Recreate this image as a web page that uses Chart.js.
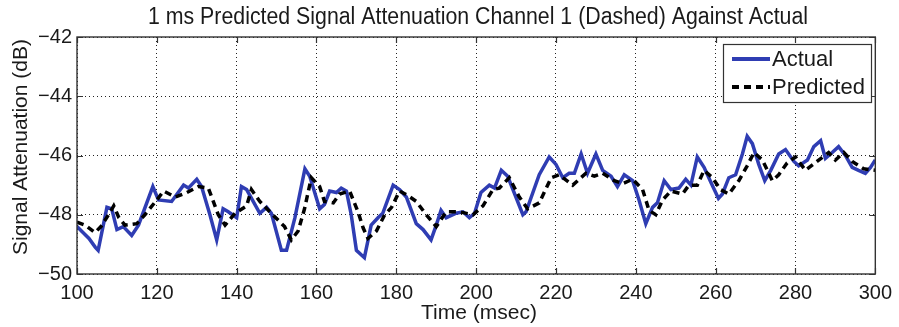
<!DOCTYPE html>
<html>
<head>
<meta charset="utf-8">
<script src="https://cdn.jsdelivr.net/npm/chart.js@4/dist/chart.umd.min.js"></script>
<style>
  html, body { margin: 0; padding: 0; background: #fff; }
  #wrap { width: 899px; height: 327px; }
</style>
</head>
<body>
<div id="wrap"><canvas id="c" width="899" height="327"></canvas></div>
<script>
// Measured attenuation (ms, dB)
const actualTime = [100, 101.5, 103, 104.6, 105.3, 107.5, 108.7, 110, 111.6, 113.7, 115.4, 119, 120.4, 123.7, 126.7, 127.9, 130, 131.2, 133.3, 135, 136.6, 137.9, 140, 141.2, 142.5, 145.8, 147.5, 148.7, 151.2, 152.5, 154.6, 157.1, 158.3, 160.8, 162, 163.3, 165, 166.2, 167.5, 168.7, 170, 172, 173.7, 175.4, 176.6, 179.2, 180.8, 182.5, 185, 186.7, 188.7, 190, 191.2, 192.5, 195, 196.7, 198.3, 199.6, 201.2, 203.3, 204.6, 206.3, 207.9, 211.7, 212.5, 215.8, 218.3, 220, 221.7, 223.3, 224.6, 226.3, 227.9, 230, 231.7, 233.8, 235.4, 237.1, 239.2, 240.8, 242.5, 244.2, 245.4, 247.1, 248.8, 250.8, 252.5, 253.8, 255.4, 257.1, 258.8, 260.7, 261.7, 263.3, 265, 266.7, 267.9, 269.2, 270.8, 272.3, 273.8, 275.8, 277.5, 279.6, 280.8, 283, 284.6, 286.3, 287.5, 289.2, 290.8, 292.5, 294.2, 295.8, 297.5, 298.8, 300];
const actualDb = [-48.4, -48.6, -48.8, -49.1, -49.2, -47.75, -47.8, -48.5, -48.4, -48.7, -48.35, -47.05, -47.5, -47.55, -47.0, -47.1, -46.8, -47.05, -48.0, -48.85, -47.8, -47.9, -48.1, -47.05, -47.15, -47.95, -47.75, -47.95, -49.2, -49.2, -48.1, -46.45, -46.7, -47.8, -47.65, -47.2, -47.25, -47.1, -47.2, -48.0, -49.2, -49.45, -48.35, -48.1, -47.95, -47.0, -47.15, -47.4, -48.3, -48.5, -48.85, -48.35, -47.85, -48.1, -47.95, -47.9, -48.1, -47.95, -47.25, -47.0, -47.1, -46.5, -46.7, -48.0, -47.9, -46.65, -46.05, -46.3, -46.75, -46.6, -46.6, -45.95, -46.6, -45.95, -46.5, -46.7, -47.05, -46.65, -46.85, -47.5, -48.3, -47.75, -47.6, -46.85, -47.15, -47.1, -46.8, -47.0, -46.05, -46.4, -46.9, -47.45, -47.3, -46.75, -46.65, -45.95, -45.35, -45.6, -46.3, -46.85, -46.5, -45.95, -45.8, -46.2, -46.35, -46.15, -45.7, -45.5, -46.1, -45.9, -45.7, -46.0, -46.4, -46.5, -46.6, -46.4, -46.15];

// 1 ms ahead prediction (ms, dB)
const predictedTime = [100, 102, 104.5, 106, 107.9, 109.2, 110.5, 112, 115, 117, 120, 121.7, 124.6, 127.5, 130.4, 132.9, 135.4, 137.1, 139.6, 142.5, 143.7, 145.8, 148.3, 152, 153.7, 155.4, 157, 158.7, 160.8, 162, 164.2, 165.8, 168.3, 170.4, 171.7, 172.9, 175, 177.1, 178.8, 180.8, 182.9, 185, 187.5, 190, 192.5, 195.8, 199.2, 201.7, 204.2, 205.8, 208.3, 210.8, 212.9, 215.8, 218.8, 220.8, 224.2, 227.5, 229.6, 231.7, 234.6, 236.7, 239.2, 241.7, 243.3, 245, 246.7, 248.8, 251.7, 253.3, 255.4, 257.1, 259.2, 261.2, 263.3, 265.8, 267.9, 269.6, 271.7, 274.2, 275.8, 277.9, 280, 282.5, 285.4, 288.3, 290, 292.1, 294.2, 297.1, 300];
const predictedDb = [-48.25, -48.35, -48.6, -48.4, -48.0, -47.7, -48.1, -48.35, -48.3, -48.0, -47.5, -47.2, -47.4, -47.25, -47.05, -47.1, -48.0, -48.35, -47.95, -47.7, -47.15, -47.55, -47.9, -48.4, -48.85, -48.55, -47.8, -46.75, -47.05, -47.55, -47.6, -47.3, -47.2, -47.9, -48.45, -48.8, -48.55, -48.0, -47.75, -47.2, -47.35, -47.55, -48.0, -48.4, -47.9, -47.9, -48.0, -47.7, -47.15, -47.1, -46.75, -47.4, -47.8, -47.6, -46.75, -46.65, -47.0, -46.6, -46.7, -46.6, -46.85, -46.95, -46.8, -47.15, -47.85, -48.0, -47.5, -47.2, -47.3, -47.0, -47.0, -46.5, -46.75, -47.15, -47.3, -46.85, -46.35, -45.9, -46.15, -46.85, -46.65, -46.25, -46.05, -46.5, -46.2, -45.9, -46.15, -45.9, -46.2, -46.45, -46.5];

// Axis ticks
const xTicks = [100, 120, 140, 160, 180, 200, 220, 240, 260, 280, 300];
const yTicks = [-50, -48, -46, -44, -42];

const seriesNames = ['Actual', 'Predicted'];
const titleText = '1 ms Predicted Signal Attenuation Channel 1 (Dashed) Against Actual';
const xTitle = 'Time (msec)';
const yTitle = 'Signal Attenuation (dB)';

const FONT = '"Liberation Sans", Arial, Helvetica, sans-serif';
const BLUE = '#2f3db3';
const INK = '#1a1a1a';

const toPoints = (xs, ys) => xs.map((x, i) => ({ x, y: ys[i] }));
const fmtMinus = v => (v < 0 ? '\u2212' + Math.abs(v) : String(v));

// Frame, inward tick marks, titles and the inset legend
const decorations = {
  id: 'decorations',
  afterDatasetsDraw(chart) {
    const { ctx, chartArea: a, scales } = chart;
    ctx.save();
    // inward tick marks
    ctx.strokeStyle = '#333';
    ctx.lineWidth = 1.2;
    ctx.setLineDash([]);
    const tl = 6;
    xTicks.forEach(v => {
      const px = Math.round(scales.x.getPixelForValue(v)) + 0.5;
      ctx.beginPath();
      ctx.moveTo(px, a.bottom); ctx.lineTo(px, a.bottom - tl);
      ctx.moveTo(px, a.top); ctx.lineTo(px, a.top + tl);
      ctx.stroke();
    });
    yTicks.forEach(v => {
      const py = Math.round(scales.y.getPixelForValue(v)) + 0.5;
      ctx.beginPath();
      ctx.moveTo(a.left, py); ctx.lineTo(a.left + tl, py);
      ctx.moveTo(a.right, py); ctx.lineTo(a.right - tl, py);
      ctx.stroke();
    });
    // frame
    ctx.lineWidth = 1.4;
    ctx.strokeRect(a.left, a.top, a.right - a.left, a.bottom - a.top);

    // legend
    const lx = 723, ly = 44, lw = 148, lh = 58;
    ctx.fillStyle = '#fff';
    ctx.fillRect(lx, ly, lw, lh);
    ctx.lineWidth = 1.2;
    ctx.strokeStyle = '#333';
    ctx.strokeRect(lx + 0.5, ly + 0.5, lw, lh);
    const ds = chart.data.datasets;
    const rows = [59, 87];
    ds.forEach((d, i) => {
      ctx.beginPath();
      ctx.strokeStyle = d.borderColor;
      ctx.lineWidth = 4;
      ctx.setLineDash(d.borderDash || []);
      ctx.moveTo(732, rows[i]); ctx.lineTo(770, rows[i]);
      ctx.stroke();
      ctx.setLineDash([]);
      ctx.fillStyle = INK;
      ctx.font = '22px ' + FONT;
      ctx.textAlign = 'left';
      ctx.textBaseline = 'middle';
      ctx.fillText(d.label, 772, rows[i] + 1);
    });

    // chart title: tall, slightly condensed lettering spanning the plot
    ctx.fillStyle = INK;
    ctx.textAlign = 'center';
    ctx.textBaseline = 'alphabetic';
    ctx.font = '23px ' + FONT;
    const tw = ctx.measureText(titleText).width;
    const sx = Math.min(1, 660 / tw);
    ctx.save();
    ctx.translate(478, 24);
    ctx.scale(sx, 1);
    ctx.fillText(titleText, 0, 0);
    ctx.restore();

    // axis titles
    ctx.textBaseline = 'middle';
    ctx.font = '21px ' + FONT;
    ctx.fillText(xTitle, 479, 313);
    ctx.translate(21, 147);
    ctx.rotate(-Math.PI / 2);
    ctx.fillText(yTitle, 0, 0);
    ctx.restore();
  }
};

new Chart(document.getElementById('c'), {
  type: 'line',
  data: {
    datasets: [
      {
        label: seriesNames[0],
        data: toPoints(actualTime, actualDb),
        borderColor: BLUE,
        borderWidth: 3.5,
        pointRadius: 0,
        tension: 0,
        fill: false,
        order: 2
      },
      {
        label: seriesNames[1],
        data: toPoints(predictedTime, predictedDb),
        borderColor: '#000',
        borderWidth: 3.5,
        borderDash: [7, 5],
        pointRadius: 0,
        tension: 0,
        fill: false,
        order: 1
      }
    ]
  },
  options: {
    responsive: false,
    animation: false,
    events: [],
    layout: { padding: { top: 37, right: 22, left: 0, bottom: 0 } },
    plugins: { legend: { display: false }, title: { display: false }, tooltip: { enabled: false } },
    scales: {
      x: {
        type: 'linear',
        min: 100, max: 300,
        afterFit: s => { s.height = 53; },
        afterBuildTicks: s => { s.ticks = xTicks.map(v => ({ value: v })); },
        ticks: { color: INK, font: { family: FONT, size: 20 }, padding: 7, maxRotation: 0, callback: v => String(v) },
        grid: { color: '#222', lineWidth: 1, drawTicks: false },
        border: { display: false, dash: [1, 3] }
      },
      y: {
        min: -50, max: -42,
        afterFit: s => { s.width = 77; },
        afterBuildTicks: s => { s.ticks = yTicks.map(v => ({ value: v })); },
        ticks: { color: INK, font: { family: FONT, size: 20 }, padding: 5, callback: v => fmtMinus(v) },
        grid: { color: '#222', lineWidth: 1, drawTicks: false },
        border: { display: false, dash: [1, 3] }
      }
    }
  },
  plugins: [decorations]
});
</script>
</body>
</html>
